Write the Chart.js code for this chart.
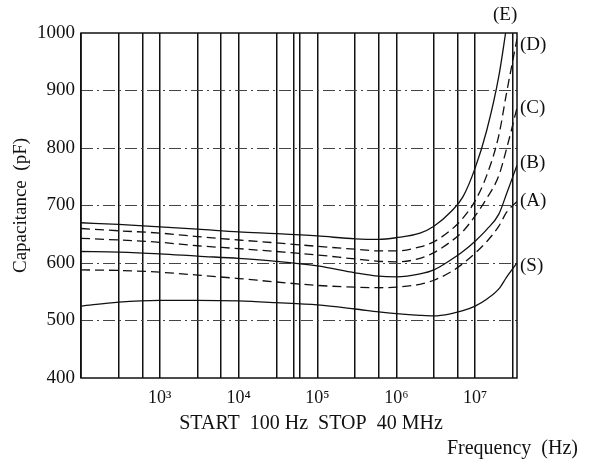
<!DOCTYPE html>
<html>
<head>
<meta charset="utf-8">
<script src="https://cdn.jsdelivr.net/npm/chart.js@4/dist/chart.umd.min.js"></script>
<style>
  html, body { margin: 0; padding: 0; background: #fff; }
  #wrap { width: 590px; height: 462px; }
</style>
</head>
<body>
<div id="wrap"><canvas id="cap-chart"></canvas></div>
<script>
// frequency points (Hz) shared by every curve
const freqs = [100, 300, 1e3, 3e3, 1e4, 3e4, 1e5, 3e5, 6e5, 1e6, 2e6, 3e6, 5e6, 7e6, 1e7, 1.4e7, 2e7, 2.5e7, 3.4e7];

// capacitance (pF)
const capE = [670, 667, 663, 659, 654, 651, 647, 642, 641, 644, 652, 664, 690, 715, 765, 830, 925, 1010, null];
const capD = [660, 656, 652, 646, 640, 635, 629, 624, 621, 621, 628, 637, 658, 678, 708, 752, 822, 895, 990];
const capC = [643, 640, 636, 630, 625, 620, 614, 607, 603, 602, 608, 618, 638, 655, 682, 712, 752, 798, 870];
const capB = [620, 619, 616, 612, 608, 603, 595, 583, 577, 576, 581, 588, 606, 620, 638, 658, 685, 720, 770];
const capA = [588, 587, 584, 579, 573, 567, 561, 558, 557, 558, 563, 570, 585, 599, 617, 637, 664, 688, 707];
const capS = [525, 532, 535, 535, 534, 531, 527, 520, 515, 512, 509, 508, 512, 517, 525, 537, 555, 575, 600];

// vertical grid lines and labelled decades
const gridFreqs = [100, 300, 600, 1e3, 3e3, 6e3, 1e4, 3e4, 5e4, 6e4, 1e5, 3e5, 6e5, 1e6, 3e6, 6e6, 1e7, 3e7];
const decadeLabels = {1e3: '10³', 1e4: '10⁴', 1e5: '10⁵', 1e6: '10⁶', 1e7: '10⁷'};

// curve tags on the right and where they sit (pF)
const curveTags = ['(D)', '(C)', '(B)', '(A)', '(S)'];
const curveTagAt = [979, 870, 774, 707, 594];
const topTag = '(E)';
const topTagAt = {x: 2.4e7, y: 1031};

const FONT = "'Liberation Serif', 'DejaVu Serif', serif";
Chart.defaults.font.family = FONT;
Chart.defaults.color = '#111';

const series = [
  {label: 'E', data: capE, dash: []},
  {label: 'D', data: capD, dash: [9, 5]},
  {label: 'C', data: capC, dash: [9, 5]},
  {label: 'B', data: capB, dash: []},
  {label: 'A', data: capA, dash: [9, 5]},
  {label: 'S', data: capS, dash: []},
];

const extras = {
  id: 'extras',
  afterDraw(chart) {
    const {ctx, chartArea: a, scales} = chart;
    ctx.save();
    // frame
    ctx.strokeStyle = '#111';
    ctx.lineWidth = 1.5;
    ctx.strokeRect(a.left, a.top, a.right - a.left, a.bottom - a.top);
    ctx.fillStyle = '#111';
    ctx.font = '19px ' + FONT;
    ctx.textBaseline = 'middle';
    ctx.textAlign = 'left';
    curveTags.forEach((t, i) => {
      ctx.fillText(t, a.right + 3, scales.y.getPixelForValue(curveTagAt[i]));
    });
    ctx.textAlign = 'center';
    ctx.fillText(topTag, scales.x.getPixelForValue(topTagAt.x), scales.y.getPixelForValue(topTagAt.y));
    ctx.font = '20px ' + FONT;
    ctx.fillText('START  100 Hz  STOP  40 MHz', 311, 424);
    ctx.textAlign = 'right';
    ctx.fillText('Frequency  (Hz)', 578, 449);
    ctx.restore();
  }
};

const ctx = document.getElementById('cap-chart').getContext('2d');
new Chart(ctx, {
  type: 'line',
  data: {
    labels: freqs,
    datasets: series.map(s => ({
      label: s.label,
      data: s.data.map((v, i) => ({x: freqs[i], y: v})),
      borderColor: '#111',
      borderWidth: 1.3,
      borderDash: s.dash,
      pointRadius: 0,
      fill: false,
      cubicInterpolationMode: 'monotone',
    })),
  },
  options: {
    responsive: true,
    maintainAspectRatio: false,
    animation: false,
    layout: {padding: {top: 33, right: 73, bottom: 0, left: 0}},
    plugins: {legend: {display: false}, tooltip: {enabled: false}},
    scales: {
      x: {
        type: 'logarithmic',
        min: 100,
        max: 3.4e7,
        afterBuildTicks: (scale) => { scale.ticks = gridFreqs.map(v => ({value: v})); },
        afterFit: (scale) => { scale.height = 84; },
        grid: {color: '#111', lineWidth: 1.5, drawTicks: false},
        border: {display: false},
        ticks: {
          autoSkip: false,
          maxRotation: 0,
          padding: 9,
          font: {size: 18},
          callback: (v) => decadeLabels[v] || '',
        },
      },
      y: {
        min: 400,
        max: 1000,
        afterFit: (scale) => { scale.width = 81; },
        grid: {
          drawTicks: false,
          lineWidth: 1,
          color: (c) => (c.tick && (c.tick.value === 400 || c.tick.value === 1000)) ? 'rgba(0,0,0,0)' : '#444',
        },
        border: {display: false, dash: [12, 4, 2, 4]},
        ticks: {stepSize: 100, padding: 6, font: {size: 19}, callback: (v) => String(v)},
        title: {display: true, text: 'Capacitance  (pF)', font: {size: 19}, padding: {top: 10, bottom: 0}},
      },
    },
  },
  plugins: [extras],
});
</script>
</body>
</html>
